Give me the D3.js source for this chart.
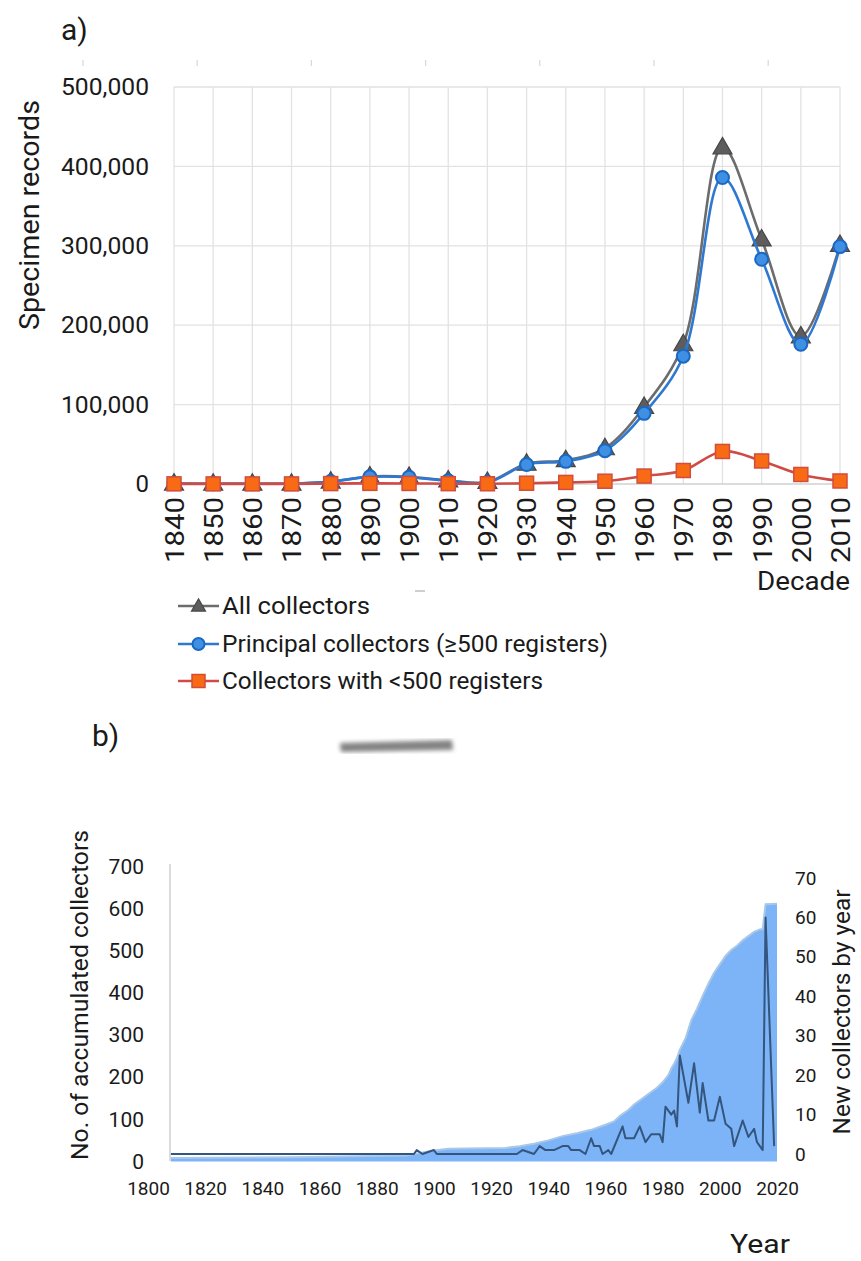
<!DOCTYPE html>
<html><head><meta charset="utf-8">
<script src="https://cdn.jsdelivr.net/npm/d3@7"></script>
<style>
html,body{margin:0;padding:0;background:#fff;}
svg{display:block;font-family:Roboto,"DejaVu Sans",sans-serif;font-weight:400;}
</style></head>
<body>
<svg id="c" width="861" height="1261"></svg>
<script>
// ---------- data: panel a ----------
const decades = [1840,1850,1860,1870,1880,1890,1900,1910,1920,1930,1940,1950,1960,1970,1980,1990,2000,2010];
const allCollectors = [500,300,400,400,3000,9500,9000,4500,2500,25500,30000,45000,97000,176000,424000,308000,186000,301000];
const principalCollectors = [500,300,400,400,3000,9000,8500,4000,2000,24500,28500,42000,89000,161000,386000,283000,176000,299000];
const smallCollectors = [200,100,100,100,500,800,700,400,300,1000,2000,3500,10000,17000,41000,29000,12000,3800];
const yTicksA = [0,100000,200000,300000,400000,500000];
const legendLabels = ["All collectors","Principal collectors (\u2265500 registers)","Collectors with <500 registers"];

// ---------- data: panel b ----------
const newYears = [1808,1893,1894,1896,1900,1901,1929,1931,1935,1937,1939,1942,1945,1947,1948,1951,1953,1955,1956,1958,1959,1961,1962,1966,1967,1970,1972,1974,1976,1979,1980,1981,1983,1984,1985,1986,1989,1991,1993,1994,1996,1998,2000,2002,2004,2005,2008,2010,2012,2013,2015,2016,2019];
const newValues = [0,0,1,0,1,0,0,1,0,2,1,1,2,2,1,1,0,4,2,2,0,1,0,7,4,4,7,3,5,5,3,12,10,11,7,25,13,23,10.5,18,8.5,8.5,14.5,7.7,6.4,2,8.5,4.3,6.4,3,1,60,2];
const cumYears = [1808,1850,1890,1895,1900,1905,1925,1930,1935,1940,1945,1950,1955,1960,1963,1965,1968,1970,1973,1975,1978,1980,1982,1983,1984,1985,1986,1988,1990,1992,1994,1996,1998,2000,2002,2004,2006,2008,2010,2012,2014,2015,2016,2020];
const cumValues = [8,10,14,20,26,30,32,36,42,50,60,67,75,87,95,108,122,135,150,160,175,188,205,220,232,245,265,292,335,362,393,422,448,468,488,502,512,525,535,545,551,552,611,612];
const yTicksL = [0,100,200,300,400,500,600,700];
const yTicksR = [0,10,20,30,40,50,60,70];
const xTicksB = [1800,1820,1840,1860,1880,1900,1920,1940,1960,1980,2000,2020];

const svg = d3.select("#c");
const txt = "#1a1a1a";

// ================= PANEL A =================
const xA = d3.scalePoint().domain(decades).range([174, 840]);
const yA = d3.scaleLinear().domain([0, 500000]).range([484, 87]);

svg.append("text").attr("x", 61).attr("y", 40).attr("font-size", 30).attr("fill", txt).text("a)");

// faint stray ticks above plot
svg.append("g").selectAll("line").data(d3.range(7)).join("line")
  .attr("x1", i => 83 + i * 114.2).attr("x2", i => 83 + i * 114.2)
  .attr("y1", 60).attr("y2", 66).attr("stroke", "#d8d8d8").attr("stroke-width", 1.2);

// grid
svg.append("g").selectAll("line").data(decades).join("line")
  .attr("x1", d => xA(d)).attr("x2", d => xA(d)).attr("y1", yA(500000)).attr("y2", yA(0))
  .attr("stroke", "#e2e2e2").attr("stroke-width", 1.3);
svg.append("g").selectAll("line").data(yTicksA).join("line")
  .attr("x1", 174).attr("x2", 840).attr("y1", d => yA(d)).attr("y2", d => yA(d))
  .attr("stroke", d => d === 0 ? "#d0d0d0" : "#e2e2e2").attr("stroke-width", 1.3);

// y axis
const axA = svg.append("g").attr("transform", "translate(149,0)")
  .call(d3.axisLeft(yA).tickValues(yTicksA).tickSize(0).tickPadding(0).tickFormat(d3.format(",")));
axA.select(".domain").remove();
axA.selectAll("text").attr("font-size", 24).attr("fill", txt).attr("font-family", "Roboto").attr("textLength", 88).attr("lengthAdjust", "spacingAndGlyphs")
  .filter(d => d === 0).attr("textLength", null);

// x axis rotated labels
const axX = svg.append("g").attr("transform", "translate(0,497)")
  .call(d3.axisBottom(xA).tickSize(0).tickPadding(0));
axX.select(".domain").remove();
axX.selectAll("text").attr("font-size", 26).attr("fill", txt).attr("font-family", "Roboto")
  .attr("transform", "rotate(-90)").attr("text-anchor", "end").attr("dx", 0).attr("dy", "0.36em").attr("y", 0).attr("x", 0)
  .attr("textLength", 66).attr("lengthAdjust", "spacingAndGlyphs");

svg.append("text").attr("transform", "translate(39,215) rotate(-90)").attr("text-anchor", "middle")
  .attr("font-size", 27).attr("fill", txt).attr("textLength", 230).attr("lengthAdjust", "spacingAndGlyphs").text("Specimen records");
svg.append("text").attr("x", 850).attr("y", 590).attr("text-anchor", "end")
  .attr("font-size", 26).attr("fill", txt).attr("textLength", 93).attr("lengthAdjust", "spacingAndGlyphs").text("Decade");

const curve = d3.curveCatmullRom.alpha(0.5);
const series = [
  {vals: allCollectors, line: "#6c6c6c", fill: "#5d5d5d", stroke: "#474747", shape: "tri"},
  {vals: principalCollectors, line: "#2f78d2", fill: "#3f8fe2", stroke: "#1a68c4", shape: "circ"},
  {vals: smallCollectors, line: "#cf4b43", fill: "#f86a14", stroke: "#d24d3c", shape: "sq"}
];
function drawMarker(g, shape, x, y, s, fill, stroke) {
  if (shape === "tri") {
    g.append("path").attr("d", d3.symbol(d3.symbolTriangle, s * s * 0.433)())
      .attr("transform", `translate(${x},${y + 1})`).attr("fill", fill).attr("stroke", stroke).attr("stroke-width", 1.2);
  } else if (shape === "circ") {
    g.append("circle").attr("cx", x).attr("cy", y).attr("r", s / 2)
      .attr("fill", fill).attr("stroke", stroke).attr("stroke-width", 2);
  } else {
    g.append("rect").attr("x", x - s / 2).attr("y", y - s / 2).attr("width", s).attr("height", s)
      .attr("fill", fill).attr("stroke", stroke).attr("stroke-width", 1.5);
  }
}
const sizes = {tri: 19, circ: 13, sq: 14};
series.forEach(s => {
  const pts = decades.map((d, i) => [xA(d), yA(s.vals[i])]);
  svg.append("path").attr("d", d3.line().curve(curve)(pts)).attr("fill", "none")
    .attr("stroke", s.line).attr("stroke-width", 2.6);
  const g = svg.append("g");
  pts.forEach(p => drawMarker(g, s.shape, p[0], p[1], sizes[s.shape], s.fill, s.stroke));
});

// legend
const legY = [606, 644, 681];
const legLen = [148, 386, 321];
series.forEach((s, i) => {
  const g = svg.append("g");
  g.append("line").attr("x1", 178).attr("x2", 219).attr("y1", legY[i]).attr("y2", legY[i])
    .attr("stroke", s.line).attr("stroke-width", 2.4);
  drawMarker(g, s.shape, 198.5, legY[i], s.shape === "tri" ? 14 : (s.shape === "circ" ? 12 : 13), s.fill, s.stroke);
  g.append("text").attr("x", 222).attr("y", legY[i] + 8).attr("font-size", 24).attr("fill", txt)
    .attr("textLength", legLen[i]).attr("lengthAdjust", "spacingAndGlyphs").text(legendLabels[i]);
});

// smudges
const defs = svg.append("defs");
defs.append("filter").attr("id", "blur").append("feGaussianBlur").attr("stdDeviation", 2.2);
svg.append("path").attr("d", "M340,743 L452,740 L453,750 L341,752 Z").attr("fill", "#6e6e6e")
  .attr("opacity", 0.85).attr("filter", "url(#blur)");
svg.append("line").attr("x1", 415).attr("x2", 425).attr("y1", 591).attr("y2", 591)
  .attr("stroke", "#cfcfcf").attr("stroke-width", 2);

// ================= PANEL B =================
svg.append("text").attr("x", 92).attr("y", 746).attr("font-size", 30).attr("fill", txt).text("b)");

const xB = d3.scaleLinear().domain([1800, 2020]).range([148, 777]);
const yL = d3.scaleLinear().domain([0, 700]).range([1161.4, 866.7]);
const yR = d3.scaleLinear().domain([0, 70]).range([1154, 878]);

const cum = cumYears.map((y, i) => ({x: y, v: cumValues[i]}));
svg.append("path").datum(cum)
  .attr("d", d3.area().x(d => xB(d.x)).y0(yL(0)).y1(d => yL(d.v)))
  .attr("fill", "#7cb4f7");
svg.append("path").datum(cum)
  .attr("d", d3.line().x(d => xB(d.x)).y(d => yL(d.v)))
  .attr("fill", "none").attr("stroke", "#a9c7e6").attr("stroke-width", 2);

const nw = newYears.map((y, i) => ({x: y, v: newValues[i]}));
svg.append("path").datum(nw)
  .attr("d", d3.line().x(d => xB(d.x)).y(d => yR(d.v)))
  .attr("fill", "none").attr("stroke", "#33557e").attr("stroke-width", 2).attr("stroke-linejoin", "round");

// left axis line
svg.append("line").attr("x1", 170).attr("x2", 170).attr("y1", 864).attr("y2", 1161)
  .attr("stroke", "#cfcfcf").attr("stroke-width", 1.5);

const axL = svg.append("g").attr("transform", "translate(144,0)")
  .call(d3.axisLeft(yL).tickValues(yTicksL).tickSize(0).tickPadding(0));
axL.select(".domain").remove();
axL.selectAll("text").attr("font-size", 21).attr("fill", txt).attr("font-family", "Roboto");

const axR = svg.append("g").attr("transform", "translate(795,0)")
  .call(d3.axisRight(yR).tickValues(yTicksR).tickSize(0).tickPadding(0));
axR.select(".domain").remove();
axR.selectAll("text").attr("font-size", 19).attr("fill", txt).attr("font-family", "Roboto");

const axB = svg.append("g").attr("transform", "translate(0,1181)")
  .call(d3.axisBottom(xB).tickValues(xTicksB).tickSize(0).tickPadding(0).tickFormat(d3.format("d")));
axB.select(".domain").remove();
axB.selectAll("text").attr("font-size", 19).attr("fill", txt).attr("font-family", "Roboto");

svg.append("text").attr("transform", "translate(88,995) rotate(-90)").attr("text-anchor", "middle")
  .attr("font-size", 24).attr("fill", txt).attr("textLength", 330).attr("lengthAdjust", "spacingAndGlyphs").text("No. of accumulated collectors");
svg.append("text").attr("transform", "translate(850,1012) rotate(-90)").attr("text-anchor", "middle")
  .attr("font-size", 23).attr("fill", txt).attr("textLength", 245).attr("lengthAdjust", "spacingAndGlyphs").text("New collectors by year");
svg.append("text").attr("x", 790).attr("y", 1253).attr("text-anchor", "end")
  .attr("font-size", 26).attr("fill", txt).attr("textLength", 60).attr("lengthAdjust", "spacingAndGlyphs").text("Year");
</script>
</body></html>
